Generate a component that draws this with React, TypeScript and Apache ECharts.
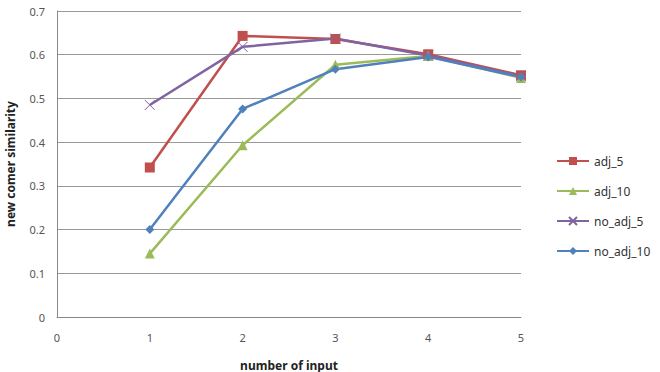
import React, { useEffect, useRef } from "react";
import * as echarts from "echarts";

const xValues = [1, 2, 3, 4, 5];
const adj5 = [0.342, 0.643, 0.636, 0.601, 0.553];
const adj10 = [0.145, 0.393, 0.577, 0.597, 0.547];
const noAdj5 = [0.485, 0.618, 0.637, 0.598, 0.551];
const noAdj10 = [0.2, 0.476, 0.567, 0.595, 0.549];
const seriesNames = ["adj_5", "adj_10", "no_adj_5", "no_adj_10"];
const colors = ["#C0504D", "#9BBB59", "#8064A2", "#4F81BD"];

const font = "'Noto Sans', sans-serif";

export default function App() {
  const ref = useRef<HTMLDivElement>(null);
  useEffect(() => {
    if (!ref.current) return;
    const chart = echarts.init(ref.current, undefined, { renderer: "svg" });
    const pair = (arr: number[]) => xValues.map((x, i) => [x, arr[i]]);
    const all = [adj5, adj10, noAdj5, noAdj10];
    const symbols = ["rect", "triangle", "path://M0,0L10,10M10,0L0,10", "diamond"];
    const sizes = [10, 10, 10, 9];
    chart.setOption({
      animation: false,
      backgroundColor: "#fff",
      grid: { left: 57, right: 139, top: 11, bottom: 55, outerBoundsMode: "none", containLabel: false },
      legend: {
        orient: "vertical",
        left: 551,
        top: 150,
        itemWidth: 32,
        itemHeight: 10,
        itemGap: 18,
        data: seriesNames,
        textStyle: { fontFamily: font, fontSize: 12, color: "#333" },
      },
      xAxis: {
        type: "value",
        min: 0,
        max: 5,
        interval: 1,
        name: "number of input",
        nameLocation: "middle",
        nameGap: 42,
        nameTextStyle: { fontFamily: font, fontSize: 12, fontWeight: "bold", color: "#222" },
        axisLine: { show: true, lineStyle: { color: "#888", width: 1 } },
        axisTick: { show: false },
        splitLine: { show: false },
        axisLabel: { fontFamily: font, fontSize: 11, color: "#555", margin: 15 },
      },
      yAxis: {
        type: "value",
        min: 0,
        max: 0.7,
        interval: 0.1,
        name: "new comer similarity",
        nameLocation: "middle",
        nameGap: 41,
        nameTextStyle: { fontFamily: font, fontSize: 12, fontWeight: "bold", color: "#222" },
        axisLine: { show: true, lineStyle: { color: "#888", width: 1 } },
        axisTick: { show: false },
        splitLine: { show: true, lineStyle: { color: "#999", width: 1 } },
        axisLabel: { fontFamily: font, fontSize: 11, color: "#555", margin: 12 },
      },
      series: all.map((arr, i) => ({
        name: seriesNames[i],
        type: "line",
        data: pair(arr),
        symbol: symbols[i],
        symbolSize: sizes[i],
        showSymbol: true,
        lineStyle: { color: colors[i], width: 2.5 },
        itemStyle:
          i === 2
            ? { color: colors[i], borderColor: colors[i], borderWidth: 1 }
            : { color: colors[i], borderWidth: 0 },
      })),
    });
    return () => chart.dispose();
  }, []);
  return <div ref={ref} style={{ width: 660, height: 372, position: "absolute", left: 0, top: 0 }} />;
}
